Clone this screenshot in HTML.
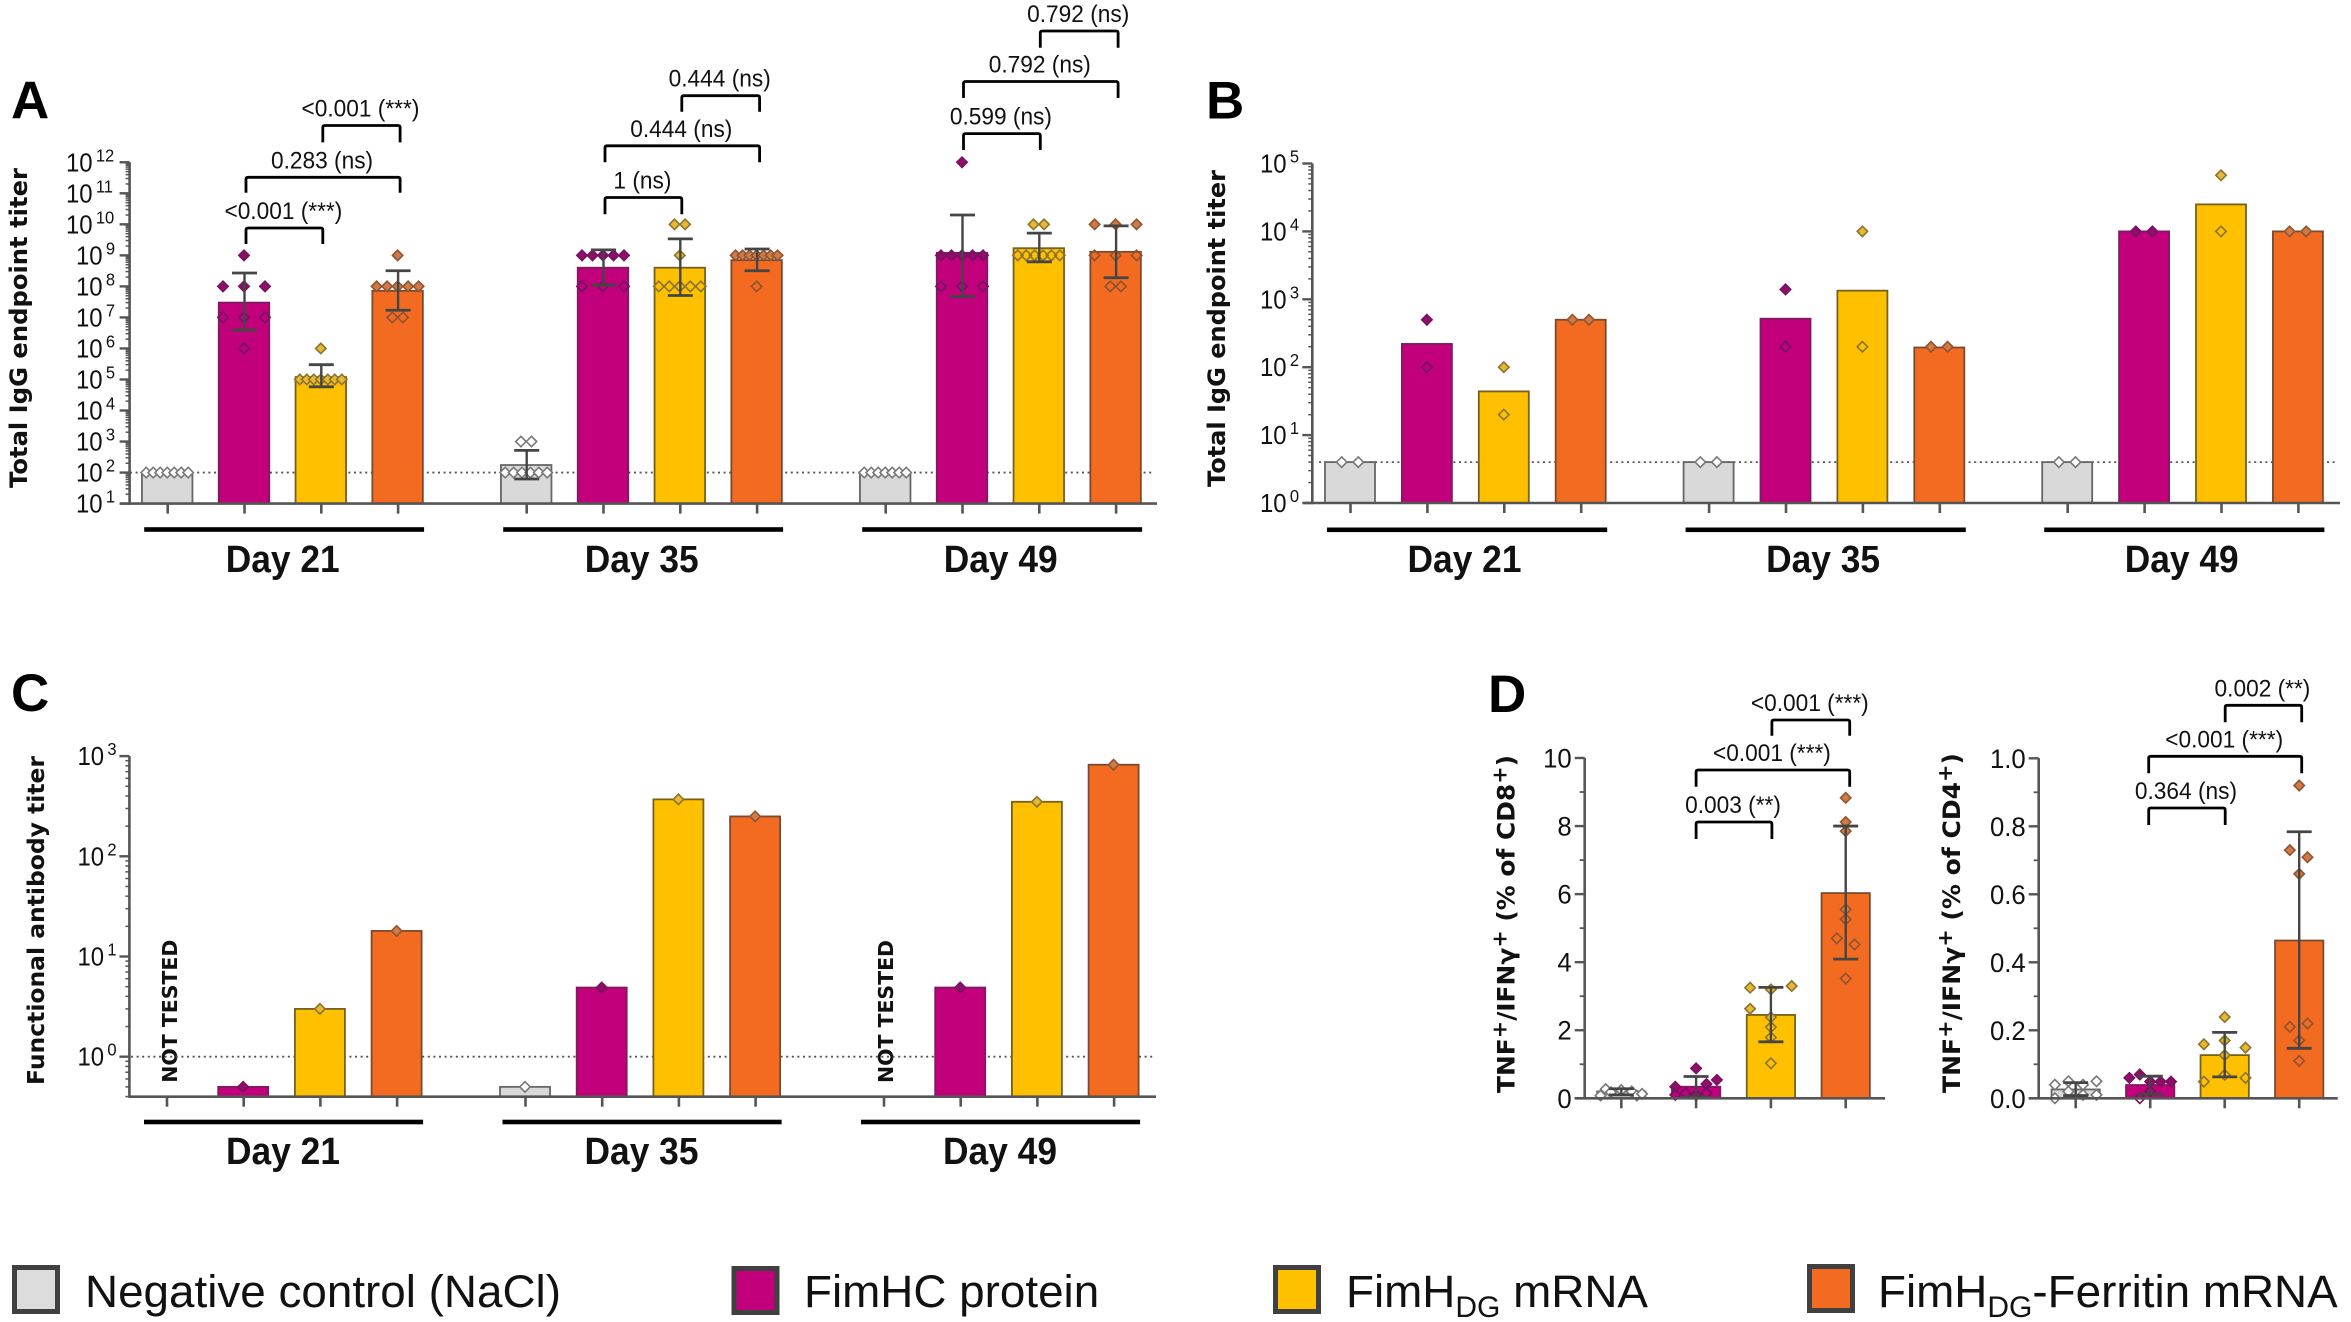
<!DOCTYPE html>
<html lang="en">
<head>
<meta charset="utf-8">
<title>FimH immunogenicity panels</title>
<style>
html,body{margin:0;padding:0;background:#fff;}
svg{display:block;}
text{font-family:"Liberation Sans",sans-serif;fill:#111;}
.ytitle{font-family:"DejaVu Sans",sans-serif;font-weight:bold;fill:#111;}
.letter{font-size:53px;font-weight:bold;fill:#000;}
.legend-text{font-size:45.8px;fill:#111;}
</style>
</head>
<body>
<svg id="figure" xmlns="http://www.w3.org/2000/svg" width="2351" height="1322" viewBox="0 0 2351 1322">
  <rect width="2351" height="1322" fill="#fff"/>

  <text class="letter" x="11" y="118.6">A</text>
  <text class="letter" x="1206" y="118.6">B</text>
  <text class="letter" x="11" y="711">C</text>
  <text class="letter" x="1488" y="712">D</text>

  <text class="ytitle" font-size="24" textLength="320" lengthAdjust="spacingAndGlyphs" transform="translate(27,488) rotate(-90)">Total IgG endpoint titer</text>
  <text class="ytitle" font-size="24" textLength="317" lengthAdjust="spacingAndGlyphs" transform="translate(1225,487) rotate(-90)">Total IgG endpoint titer</text>
  <text class="ytitle" font-size="23.4" textLength="329" lengthAdjust="spacingAndGlyphs" transform="translate(44,1085) rotate(-90)">Functional antibody titer</text>
  <text class="ytitle" font-size="24" textLength="338" lengthAdjust="spacingAndGlyphs" transform="translate(1514.3,1093) rotate(-90)">TNF<tspan dy="-8" font-size="20">+</tspan><tspan dy="8">/IFNγ</tspan><tspan dy="-8" font-size="20">+</tspan><tspan dy="8"> (% of CD8</tspan><tspan dy="-8" font-size="20">+</tspan><tspan dy="8">)</tspan></text>
  <text class="ytitle" font-size="24" textLength="340" lengthAdjust="spacingAndGlyphs" transform="translate(1960,1093) rotate(-90)">TNF<tspan dy="-8" font-size="20">+</tspan><tspan dy="8">/IFNγ</tspan><tspan dy="-8" font-size="20">+</tspan><tspan dy="8"> (% of CD4</tspan><tspan dy="-8" font-size="20">+</tspan><tspan dy="8">)</tspan></text>

  <text class="ytitle" font-size="20.4" textLength="143" lengthAdjust="spacingAndGlyphs" transform="translate(177,1082.7) rotate(-90)">NOT TESTED</text>
  <text class="ytitle" font-size="20.4" textLength="143" lengthAdjust="spacingAndGlyphs" transform="translate(893,1083) rotate(-90)">NOT TESTED</text>

  <g id="chart-layer"></g>

  <g>
    <g>
      <rect x="14.5" y="1267.5" width="43" height="44" fill="#dcdcdc" stroke="#404040" stroke-width="5"/>
      <text class="legend-text" x="85" y="1307">Negative control (NaCl)</text>
    </g>
    <g>
      <rect x="734" y="1268.5" width="43" height="44" fill="#c2007b" stroke="#404040" stroke-width="5"/>
      <text class="legend-text" x="804" y="1307">FimHC protein</text>
    </g>
    <g>
      <rect x="1275.5" y="1267.5" width="43" height="44" fill="#ffc000" stroke="#404040" stroke-width="5"/>
      <text class="legend-text" x="1346" y="1307">FimH<tspan font-size="30" dy="10">DG</tspan><tspan dy="-10"> mRNA</tspan></text>
    </g>
    <g>
      <rect x="1809.5" y="1266.5" width="43" height="44" fill="#f26b21" stroke="#404040" stroke-width="5"/>
      <text class="legend-text" x="1878" y="1307">FimH<tspan font-size="30" dy="10">DG</tspan><tspan dy="-10">-Ferritin mRNA</tspan></text>
    </g>
  </g>
</svg>

<script>
// ---------- shared categories ----------
const dayLabels = ["Day 21", "Day 35", "Day 49"];

// ---------- Panel A values (Total IgG endpoint titer) ----------
const aTickExponents = [1,2,3,4,5,6,7,8,9,10,11,12];
const aControl  = [100, 175, 100];
const aProtein  = [3e7, 4e8, 1.2e9];
const aMrna     = [1.2e5, 4e8, 1.7e9];
const aFerritin = [7.2e7, 7e8, 1.3e9];
const aControlHi  = [null, 520, null];
const aControlLo  = [null, 62, null];
const aProteinHi  = [2.7e8, 1.5e9, 2e10];
const aProteinLo  = [3.9e6, 1.1e8, 4.7e7];
const aMrnaHi     = [3e5, 3.4e9, 5.2e9];
const aMrnaLo     = [5.8e4, 5.1e7, 6.2e8];
const aFerritinHi = [3.2e8, 1.6e9, 8.9e9];
const aFerritinLo = [1.7e7, 3.2e8, 1.9e8];
const aControlPoints  = [[100,100,100,100,100,100,100],[1000,1000,100,100,100,100,100,100],[100,100,100,100,100,100,100]];
const aProteinPoints  = [[1e9,1e8,1e8,1e8,1e7,1e7,1e7,1e6],[1e9,1e9,1e9,1e9,1e9,1e8,1e8,1e8],[1e12,1e9,1e9,1e9,1e9,1e9,1e8,1e8,1e8]];
const aMrnaPoints     = [[1e6,1e5,1e5,1e5,1e5,1e5,1e5,1e5],[1e10,1e10,1e9,1e8,1e8,1e8,1e8,1e8],[1e10,1e10,1e9,1e9,1e9,1e9,1e9,1e9]];
const aFerritinPoints = [[1e9,1e8,1e8,1e8,1e8,1e8,1e7,1e7],[1e9,1e9,1e9,1e9,1e9,1e9,1e9,1e8],[1e10,1e10,1e10,1e9,1e9,1e9,1e8,1e8]];
const aBracketLabels = ["<0.001 (***)","0.283 (ns)","<0.001 (***)","1 (ns)","0.444 (ns)","0.444 (ns)","0.599 (ns)","0.792 (ns)","0.792 (ns)"];

// ---------- Panel B values (Total IgG endpoint titer) ----------
const bTickExponents = [0,1,2,3,4,5];
const bControl  = [4, 4, 4];
const bProtein  = [220, 518, 1e4];
const bMrna     = [44, 1340, 2.5e4];
const bFerritin = [500, 195, 1e4];
const bControlPoints  = [[4,4],[4,4],[4,4]];
const bProteinPoints  = [[500,100],[1400,200],[1e4,1e4]];
const bMrnaPoints     = [[100,20],[1e4,200],[67000,1e4]];
const bFerritinPoints = [[500,500],[200,200],[1e4,1e4]];

// ---------- Panel C values (Functional antibody titer) ----------
const cTickExponents = [0,1,2,3];
const cControl  = [null, 0.5, null];
const cProtein  = [0.5, 4.9, 4.9];
const cMrna     = [3, 370, 350];
const cFerritin = [18, 250, 820];

// ---------- Panel D values ----------
const dCategories = ["Negative control","FimHC protein","FimHDG mRNA","FimHDG-Ferritin mRNA"];
const d8Ticks = [0,2,4,6,8,10];
const d8Means = [0.2, 0.34, 2.45, 6.03];
const d8Hi    = [0.28, 0.64, 3.26, 8.0];
const d8Lo    = [0.1, 0.05, 1.66, 4.09];
const d8ControlValues  = [0.27,0.08,0.18,0.24,0.2,0.08,0.13];
const d8ControlSlots   = [-1.5,-2,-1,0,1,1.5,2];
const d8ProteinValues  = [0.88,0.54,0.42,0.34,0.15,0.1,0.15,0.1];
const d8ProteinSlots   = [0,2,1,-2,-1,0,1,-2];
const d8MrnaValues     = [3.25,3.3,3.2,2.63,2.38,2.09,1.79,1.03];
const d8MrnaSlots      = [-2,2,0,-2,0,0,0,0];
const d8FerritinValues = [8.83,8.12,7.85,5.55,5.26,4.7,4.52,3.52];
const d8FerritinSlots  = [0,0,0,0,0,-0.85,0.85,0];
const d8BracketLabels  = ["0.003 (**)","<0.001 (***)","<0.001 (***)"];

const d4Ticks = [0,0.2,0.4,0.6,0.8,1];
const d4Means = [0.026, 0.039, 0.127, 0.464];
const d4Hi    = [0.046, 0.065, 0.194, 0.784];
const d4Lo    = [0.008, 0.012, 0.063, 0.147];
const d4ControlValues  = [0.04,0.05,0.04,0.05,0.02,0.01,0.01,0];
const d4ControlSlots   = [-2,-0.7,0.7,2,-0.7,0.7,2,-2];
const d4ProteinValues  = [0.07,0.06,0.049,0.049,0.049,0.02,0];
const d4ProteinSlots   = [-1,-2,0,1,2,0,-1];
const d4MrnaValues     = [0.239,0.159,0.149,0.17,0.127,0.069,0.06,0.049];
const d4MrnaSlots      = [0,-2,2,0,0,0,2,-2];
const d4FerritinValues = [0.92,0.73,0.709,0.66,0.21,0.22,0.17,0.11];
const d4FerritinSlots  = [0,-0.9,0.8,0,-0.9,0.8,0,0];
const d4BracketLabels  = ["0.364 (ns)","<0.001 (***)","0.002 (**)"];

// ---------- styles ----------
const NS = "http://www.w3.org/2000/svg";
const layer = document.getElementById("chart-layer");
const AXIS = "#555";
const ERR = "#454545";
const styles = {
  control:  {fill:"#d9d9d9", stroke:"#666666", dot:"#ffffff", dotStroke:"#777777", hollow:"#777777"},
  protein:  {fill:"#c2007b", stroke:"#7e1a60", dot:"#8c1068", dotStroke:"#7a1060", hollow:"#6e1560"},
  mrna:     {fill:"#ffc000", stroke:"#75611f", dot:"#e8b830", dotStroke:"#8a7430", hollow:"#8a7430"},
  ferritin: {fill:"#f26b21", stroke:"#7a4a30", dot:"#d07a45", dotStroke:"#8f5532", hollow:"#8f5232"}
};
function make(tag, attrs, parent){
  const el = document.createElementNS(NS, tag);
  for (const k in attrs) el.setAttribute(k, attrs[k]);
  (parent || layer).appendChild(el);
  return el;
}

// ---------- mark helpers ----------
function drawBar(cx, top, base, width, st){
  const r = make("rect", {x:cx-width/2, y:top, width:width, height:base-top, fill:st.fill, stroke:st.stroke, "stroke-width":1.8});
  
  
}
function drawPoint(cx, cy, st, filled){
  const h = 5.2;
  const pts = [cx,cy-h,cx+h,cy,cx,cy+h,cx-h,cy].join(",");
  const isControl = st === styles.control;
  const d = make("polygon", {
    points: pts,
    fill: isControl ? st.dot : (filled ? st.dot : "none"),
    stroke: filled || isControl ? st.dotStroke : st.hollow,
    "stroke-width": 1.6
  });
  
  
}
function drawError(cx, yHi, yLo){
  const g = make("g", {stroke:ERR, fill:"none"});
  
  
  make("line", {x1:cx, x2:cx, y1:yHi, y2:yLo, "stroke-width":2.4}, g);
  make("line", {x1:cx-12.5, x2:cx+12.5, y1:yHi, y2:yHi, "stroke-width":2.8}, g);
  make("line", {x1:cx-12.5, x2:cx+12.5, y1:yLo, y2:yLo, "stroke-width":2.8}, g);
}
function drawBracket(x1, x2, top, bottom, label){
  const p = make("path", {d:"M"+x1+" "+bottom+"V"+(top+2)+"Q"+x1+" "+top+" "+(x1+2)+" "+top+"H"+(x2-2)+"Q"+x2+" "+top+" "+x2+" "+(top+2)+"V"+bottom, fill:"none", stroke:"#000", "stroke-width":2.8});
  
  
  const t = make("text", {transform:"translate("+((x1+x2)/2-1)+","+(top-9)+") scale(0.93,1)", "text-anchor":"middle", "font-size":24.4});
  
  
  t.textContent = label;
}
function drawYAxisLine(x, top, bottom){
  const l = make("line", {x1:x, x2:x, y1:top, y2:bottom+1.2, stroke:AXIS, "stroke-width":2.6});
  
  
}
function drawXAxisLine(x1, x2, y){
  const l = make("line", {x1:x1, x2:x2, y1:y, y2:y, stroke:AXIS, "stroke-width":2.6});
  
  
}
function drawXTick(x, y){
  const l = make("line", {x1:x, x2:x, y1:y, y2:y+10, stroke:AXIS, "stroke-width":2.6});
  
  
}
function drawYTick(x, y, len, w){
  const l = make("line", {x1:x-len, x2:x, y1:y, y2:y, stroke:AXIS, "stroke-width":w});
  
  
}
function drawPowerLabel(x, y, exp){
  const t = make("text", {transform:"translate("+x+","+(y+9)+") scale(0.92,1)", "font-size":26});
  
  
  t.textContent = "10";
  const s = make("tspan", {dy:-10, dx:3.5, "font-size":18}, t);
  s.textContent = String(exp);
}
function drawNumberLabel(x, y, str){
  const t = make("text", {transform:"translate("+x+","+(y+9.5)+") scale(0.97,1)", "font-size":26.5, "text-anchor":"end"});
  
  
  t.textContent = str;
}
function drawDottedLine(x1, x2, y){
  const l = make("line", {x1:x1, x2:x2, y1:y, y2:y, stroke:"#555", "stroke-width":1.8, "stroke-dasharray":"2 3.6"});
  
  
}
function drawDayGroup(x1, x2, y, labelX, labelY, label){
  const r = make("rect", {x:x1, y:y-2.3, width:x2-x1, height:4.6, fill:"#000"});
  
  
  const t = make("text", {transform:"translate("+labelX+","+labelY+") scale(0.93,1)", "text-anchor":"middle", "font-size":38, "font-weight":"bold", fill:"#000"});
  
  
  t.textContent = label;
}

// equal-valued points are spread across the bar width in rows
function rowOffsets(values, pairGap){
  const seen = {}, counts = {};
  values.forEach(v => counts[v] = (counts[v] || 0) + 1);
  return values.map(v => {
    const n = counts[v], i = seen[v] || 0;
    seen[v] = i + 1;
    if (n === 1) return 0;
    if (n === 2) return i === 0 ? -pairGap : pairGap;
    return -21 + 42 * i / (n - 1);
  });
}

function drawLogAxis(x, yFn, exps, minV, labelX){
  const topExp = exps[exps.length-1];
  drawYAxisLine(x, yFn(Math.pow(10, topExp)), yFn(minV));
  exps.forEach(e => {
    drawYTick(x, yFn(Math.pow(10, e)), 10, 2.4);
    drawPowerLabel(labelX(e), yFn(Math.pow(10, e)), e);
  });
  for (let e = Math.floor(Math.log10(minV)); e < topExp; e++){
    for (let k = 2; k <= 9; k++){
      const v = k * Math.pow(10, e);
      if (v >= minV) drawYTick(x, yFn(v), 4, 1.5);
    }
  }
}

function drawGroups(o){
  // o: xFn, yFn, base, barW, threshold, pairGap, series
  o.series.forEach((s, si) => {
    dayLabels.forEach((d, g) => {
      const cx = o.xFn(g, si);
      drawXTick(cx, o.base);
      const val = s.values[g];
      if (val != null) drawBar(cx - 0.5, o.yFn(val), o.base, o.barW, s.style);
    });
  });
  o.series.forEach((s, si) => {
    dayLabels.forEach((d, g) => {
      const cx = o.xFn(g, si);
      const val = s.values[g];
      if (val == null) return;
      const pts = s.points ? s.points[g] : [val];
      const off = rowOffsets(pts, o.pairGap);
      pts.forEach((p, i) => drawPoint(cx - 0.5 + off[i], o.yFn(p), s.style, p >= val * o.threshold));
      if (s.hi && s.hi[g] != null) drawError(cx, o.yFn(s.hi[g]), o.yFn(s.lo[g]));
    });
  });
}

// ---------- Panel A ----------
const xA = (g, i) => 167.7 + g * 359 + i * 76.8;
const yA = v => 503.6 - (Math.log10(v) - 1) * 31.03;
drawDottedLine(130, 1154, yA(100));
drawGroups({xFn:xA, yFn:yA, base:503.6, barW:50.5, threshold:0.8, pairGap:5.3, series:[
  {style:styles.control,  values:aControl,  hi:aControlHi,  lo:aControlLo,  points:aControlPoints},
  {style:styles.protein,  values:aProtein,  hi:aProteinHi,  lo:aProteinLo,  points:aProteinPoints},
  {style:styles.mrna,     values:aMrna,     hi:aMrnaHi,     lo:aMrnaLo,     points:aMrnaPoints},
  {style:styles.ferritin, values:aFerritin, hi:aFerritinHi, lo:aFerritinLo, points:aFerritinPoints}
]});
drawXAxisLine(120, 1157, 503.6);
drawLogAxis(129.6, yA, aTickExponents, 10, e => e >= 10 ? 66 : 76);
drawBracket(xA(0,1)+1.5, xA(0,2)+1.5, 228, 244, aBracketLabels[0]);
drawBracket(xA(0,1)+1.5, xA(0,3)+2, 177.3, 192.7, aBracketLabels[1]);
drawBracket(xA(0,2)+1.5, xA(0,3)+2, 125.5, 142.4, aBracketLabels[2]);
drawBracket(xA(1,1)+1.5, xA(1,2)+1.5, 197.5, 214.3, aBracketLabels[3]);
drawBracket(xA(1,1)+1.5, xA(1,3)+2.5, 145.8, 162.3, aBracketLabels[4]);
drawBracket(xA(1,2)+1.5, xA(1,3)+2.5, 95.7, 111.7, aBracketLabels[5]);
drawBracket(xA(2,1)+1, xA(2,2)+1, 133.6, 150, aBracketLabels[6]);
drawBracket(xA(2,1)+1, xA(2,3)+2, 81.5, 98, aBracketLabels[7]);
drawBracket(xA(2,2)+1, xA(2,3)+2, 31, 47.8, aBracketLabels[8]);
dayLabels.forEach((d, g) => drawDayGroup(xA(g,0)-23.5, xA(g,3)+26, 529.5, xA(g,0)+115, 572, d));

// ---------- Panel B ----------
const xB = (g, i) => 1350.5 + g * 358.6 + i * 76.9;
const yB = v => 503 - Math.log10(v) * 67.9;
drawDottedLine(1319, 2337, yB(4));
drawGroups({xFn:xB, yFn:yB, base:503, barW:50, threshold:0.9, pairGap:8.3, series:[
  {style:styles.control,  values:bControl,  points:bControlPoints},
  {style:styles.protein,  values:bProtein,  points:bProteinPoints},
  {style:styles.mrna,     values:bMrna,     points:bMrnaPoints},
  {style:styles.ferritin, values:bFerritin, points:bFerritinPoints}
]});
drawXAxisLine(1303, 2340, 503);
drawLogAxis(1312.3, yB, bTickExponents, 1, () => 1260);
dayLabels.forEach((d, g) => drawDayGroup(xB(g,0)-23.5, xB(g,3)+26, 529.8, xB(g,0)+114, 572, d));

// ---------- Panel C ----------
const xC = (g, i) => 167 + g * 358.5 + i * 76.7;
const yC = v => 1056.7 - Math.log10(v) * 100.2;
drawDottedLine(131, 1154, yC(1));
drawGroups({xFn:xC, yFn:yC, base:1096.7, barW:50, threshold:0.9, pairGap:5, series:[
  {style:styles.control,  values:cControl},
  {style:styles.protein,  values:cProtein},
  {style:styles.mrna,     values:cMrna},
  {style:styles.ferritin, values:cFerritin}
]});
drawXAxisLine(129, 1156, 1096.7);
drawLogAxis(129.4, yC, cTickExponents, 0.4, () => 77.5);
dayLabels.forEach((d, g) => drawDayGroup(xC(g,0)-23, xC(g,3)+26, 1122, xC(g,0)+116, 1164, d));

// ---------- Panel D ----------
function drawLinearPanel(o){
  dCategories.forEach((c, i) => {
    const cx = o.xFn(i);
    drawXTick(cx, o.base);
    drawBar(cx, o.yFn(o.means[i]), o.base, 48.3, o.series[i].style);
  });
  dCategories.forEach((c, i) => {
    const cx = o.xFn(i), s = o.series[i];
    s.values.forEach((v, j) => drawPoint(cx + s.slots[j] * 10.4, o.yFn(v), s.style, v >= o.means[i] * 0.9));
    drawError(cx, o.yFn(o.hi[i]), o.yFn(o.lo[i]));
  });
  drawXAxisLine(o.axisX - 10, o.axisEnd, o.base);
  drawYAxisLine(o.axisX, o.yFn(o.ticks[o.ticks.length-1]), o.base);
  o.ticks.forEach((t, i) => {
    drawYTick(o.axisX, o.yFn(t), 10, 2.4);
    drawNumberLabel(o.labelX, o.yFn(t), o.fmt(t));
    if (i < o.ticks.length - 1) drawYTick(o.axisX, o.yFn((t + o.ticks[i+1]) / 2), 5, 1.8);
  });
}
const xD8 = i => 1621.3 + i * 74.8;
const yD8 = v => 1098.3 - v * 34.03;
drawLinearPanel({xFn:xD8, yFn:yD8, base:1098.3, axisX:1584.7, axisEnd:1885, labelX:1571.7, ticks:d8Ticks, means:d8Means, hi:d8Hi, lo:d8Lo, fmt:String, series:[
  {style:styles.control,  values:d8ControlValues,  slots:d8ControlSlots},
  {style:styles.protein,  values:d8ProteinValues,  slots:d8ProteinSlots},
  {style:styles.mrna,     values:d8MrnaValues,     slots:d8MrnaSlots},
  {style:styles.ferritin, values:d8FerritinValues, slots:d8FerritinSlots}
]});
drawBracket(xD8(1), xD8(2)+1, 822, 839, d8BracketLabels[0]);
drawBracket(xD8(1), xD8(3)+4, 770, 786.7, d8BracketLabels[1]);
drawBracket(xD8(2)+1, xD8(3)+4, 720, 735.7, d8BracketLabels[2]);

const xD4 = i => 2075.7 + i * 74.5;
const yD4 = v => 1098.3 - v * 340;
drawLinearPanel({xFn:xD4, yFn:yD4, base:1098.3, axisX:2038.7, axisEnd:2337.7, labelX:2025.7, ticks:d4Ticks, means:d4Means, hi:d4Hi, lo:d4Lo, fmt:t => t.toFixed(1), series:[
  {style:styles.control,  values:d4ControlValues,  slots:d4ControlSlots},
  {style:styles.protein,  values:d4ProteinValues,  slots:d4ProteinSlots},
  {style:styles.mrna,     values:d4MrnaValues,     slots:d4MrnaSlots},
  {style:styles.ferritin, values:d4FerritinValues, slots:d4FerritinSlots}
]});
drawBracket(xD4(1)-1.5, xD4(2)+0.5, 808, 825, d4BracketLabels[0]);
drawBracket(xD4(1)-1.5, xD4(3)+2.5, 756.3, 773.3, d4BracketLabels[1]);
drawBracket(xD4(2)+0.5, xD4(3)+2.5, 705.3, 722.3, d4BracketLabels[2]);
</script>
</body>
</html>
